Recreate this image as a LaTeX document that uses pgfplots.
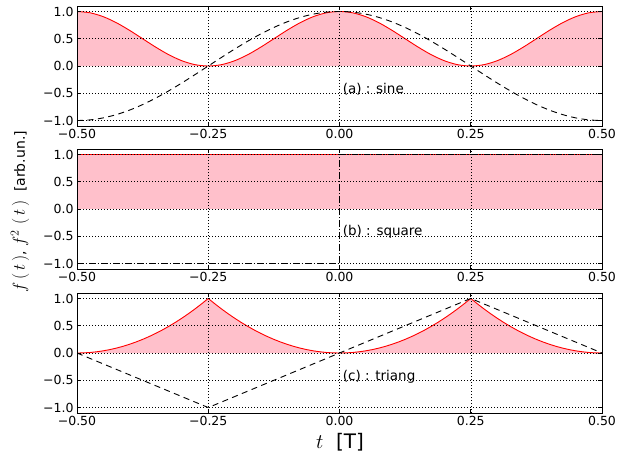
\documentclass[border=0pt]{standalone}
\usepackage[no-math]{fontspec}
\setmainfont{DejaVu Sans}
\usepackage{pgfplots}
\usepackage{pgfplotstable}
\pgfplotsset{compat=1.18}

\definecolor{fillpink}{RGB}{255,192,203}

% sine: t, f = cos, f2 = cos^2
\pgfplotstableread{
t f f2
-0.500 -1.00000 1.00000
-0.475 -0.98769 0.97553
-0.450 -0.95106 0.90451
-0.425 -0.89101 0.79389
-0.400 -0.80902 0.65451
-0.375 -0.70711 0.50000
-0.350 -0.58779 0.34549
-0.325 -0.45399 0.20611
-0.300 -0.30902 0.09549
-0.275 -0.15643 0.02447
-0.250 0.00000 0.00000
-0.225 0.15643 0.02447
-0.200 0.30902 0.09549
-0.175 0.45399 0.20611
-0.150 0.58779 0.34549
-0.125 0.70711 0.50000
-0.100 0.80902 0.65451
-0.075 0.89101 0.79389
-0.050 0.95106 0.90451
-0.025 0.98769 0.97553
0.000 1.00000 1.00000
0.025 0.98769 0.97553
0.050 0.95106 0.90451
0.075 0.89101 0.79389
0.100 0.80902 0.65451
0.125 0.70711 0.50000
0.150 0.58779 0.34549
0.175 0.45399 0.20611
0.200 0.30902 0.09549
0.225 0.15643 0.02447
0.250 0.00000 0.00000
0.275 -0.15643 0.02447
0.300 -0.30902 0.09549
0.325 -0.45399 0.20611
0.350 -0.58779 0.34549
0.375 -0.70711 0.50000
0.400 -0.80902 0.65451
0.425 -0.89101 0.79389
0.450 -0.95106 0.90451
0.475 -0.98769 0.97553
0.500 -1.00000 1.00000
}\sinetab

% square
\pgfplotstableread{
t f
-0.5 -1
0.0 -1
0.0 1
0.5 1
}\sqtab
\pgfplotstableread{
t f2
-0.5 1
0.5 1
}\sqsqtab

% triangle
\pgfplotstableread{
t f
-0.5 0
-0.25 -1
0.0 0
0.25 1
0.5 0
}\tritab
\pgfplotstableread{
t f2
-0.5 0
-0.4875 0.0025
-0.475 0.01
-0.4625 0.0225
-0.45 0.04
-0.4375 0.0625
-0.425 0.09
-0.4125 0.1225
-0.4 0.16
-0.3875 0.2025
-0.375 0.25
-0.3625 0.3025
-0.35 0.36
-0.3375 0.4225
-0.325 0.49
-0.3125 0.5625
-0.3 0.64
-0.2875 0.7225
-0.275 0.81
-0.2625 0.9025
-0.25 1
-0.2375 0.9025
-0.225 0.81
-0.2125 0.7225
-0.2 0.64
-0.1875 0.5625
-0.175 0.49
-0.1625 0.4225
-0.15 0.36
-0.1375 0.3025
-0.125 0.25
-0.1125 0.2025
-0.1 0.16
-0.0875 0.1225
-0.075 0.09
-0.0625 0.0625
-0.05 0.04
-0.0375 0.0225
-0.025 0.01
-0.0125 0.0025
0.0 0
0.0125 0.0025
0.025 0.01
0.0375 0.0225
0.05 0.04
0.0625 0.0625
0.075 0.09
0.0875 0.1225
0.1 0.16
0.1125 0.2025
0.125 0.25
0.1375 0.3025
0.15 0.36
0.1625 0.4225
0.175 0.49
0.1875 0.5625
0.2 0.64
0.2125 0.7225
0.225 0.81
0.2375 0.9025
0.25 1
0.2625 0.9025
0.275 0.81
0.2875 0.7225
0.3 0.64
0.3125 0.5625
0.325 0.49
0.3375 0.4225
0.35 0.36
0.3625 0.3025
0.375 0.25
0.3875 0.2025
0.4 0.16
0.4125 0.1225
0.425 0.09
0.4375 0.0625
0.45 0.04
0.4625 0.0225
0.475 0.01
0.4875 0.0025
0.5 0
}\trisqtab

\pgfplotsset{
  panel/.style={
    scale only axis, width=525pt, height=120pt,
    anchor=south west,
    xmin=-0.5, xmax=0.5, ymin=-1.1, ymax=1.1,
    xtick={-0.5,-0.25,0,0.25,0.5},
    xticklabels={−0.50,−0.25,0.00,0.25,0.50},
    ytick={-1,-0.5,0,0.5,1},
    yticklabels={−1.0,−0.5,0.0,0.5,1.0},
    grid=major,
    grid style={black, line width=0.5pt, dash pattern=on 1pt off 2pt},
    axis on top,
    axis line style={line width=0.8pt},
    tick style={black, line width=0.6pt},
    major tick length=4pt,
    tick label style={font=\fontsize{12.5}{15}\selectfont},
  },
}
\tikzset{
  sqline/.style={red, line width=0.9pt},
  sqfill/.style={fill=fillpink, draw=none},
  fline/.style={black, line width=0.9pt, dash pattern=on 6pt off 4.5pt},
  tag/.style={anchor=west, inner sep=0pt, font=\fontsize{13.5}{16}\selectfont},
}

\begin{document}
\begin{tikzpicture}
\useasboundingbox (0pt,0pt) rectangle (618pt,-459pt);

\begin{axis}[panel, at={(77pt,-126pt)}]
\addplot[sqfill, smooth] table[x=t, y=f2] {\sinetab} \closedcycle;
\addplot[sqline, smooth] table[x=t, y=f2] {\sinetab};
\addplot[fline, smooth] table[x=t, y=f] {\sinetab};
\node[tag] at (axis cs:0.006,-0.42) {(a) : sine};
\end{axis}

\begin{axis}[panel, at={(77pt,-269pt)}]
\addplot[sqfill] table[x=t, y=f2] {\sqsqtab} \closedcycle;
\addplot[sqline] table[x=t, y=f2] {\sqsqtab};
\addplot[black, line width=0.9pt, dash pattern=on 6pt off 2.5pt on 1pt off 2.5pt] table[x=t, y=f] {\sqtab};
\node[tag] at (axis cs:0.006,-0.42) {(b) : square};
\end{axis}

\begin{axis}[panel, at={(77pt,-413pt)}]
\addplot[sqfill] table[x=t, y=f2] {\trisqtab} \closedcycle;
\addplot[sqline] table[x=t, y=f2] {\trisqtab};
\addplot[fline] table[x=t, y=f] {\tritab};
\node[tag] at (axis cs:0.006,-0.44) {(c) : triang};
\end{axis}

\node[rotate=90, font=\fontsize{14}{17}\selectfont] at (20pt,-212pt)
  {{\fontsize{17}{20}\selectfont$f\,(\,t\,)$}, {\fontsize{17}{20}\selectfont$f^2$\ $(\,t\,)$}\ \ [arb.un.]};
\node[font=\fontsize{20}{24}\selectfont] at (340pt,-442pt) {$t$\ \ [T]};
\end{tikzpicture}
\end{document}
